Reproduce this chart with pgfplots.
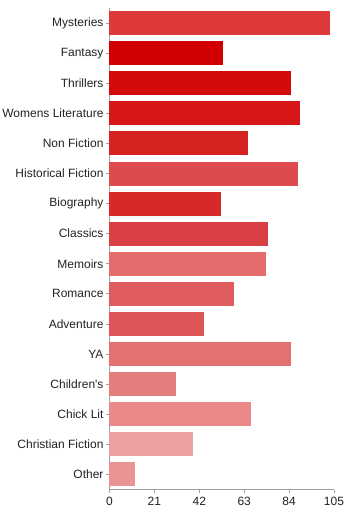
\documentclass[border=0pt]{standalone}
\usepackage{pgfplots}
\pgfplotsset{compat=1.18}
\usepackage{fontspec}
\setmainfont{Liberation Sans}
\definecolor{c1}{HTML}{DD393B}
\definecolor{c2}{HTML}{D20000}
\definecolor{c3}{HTML}{D30A0A}
\definecolor{c4}{HTML}{D51717}
\definecolor{c5}{HTML}{D72222}
\definecolor{c6}{HTML}{DD4B4D}
\definecolor{c7}{HTML}{D72929}
\definecolor{c8}{HTML}{DA4043}
\definecolor{c9}{HTML}{E36B6B}
\definecolor{c10}{HTML}{E05B5D}
\definecolor{c11}{HTML}{DF5456}
\definecolor{c12}{HTML}{E37172}
\definecolor{c13}{HTML}{E67D7D}
\definecolor{c14}{HTML}{E98989}
\definecolor{c15}{HTML}{EEA0A0}
\definecolor{c16}{HTML}{EA9393}
\definecolor{axgray}{HTML}{A0A0A0}
\definecolor{txt}{HTML}{222222}
\begin{document}
\begin{tikzpicture}
\begin{axis}[
  name=ax,
  scale only axis,
  width=224.5bp, height=481.5bp,
  xbar, bar width=24bp, bar shift=0pt,
  xmin=0, xmax=105,
  ymin=-0.5, ymax=15.5,
  y dir=reverse,
  axis x line*=bottom, axis y line*=left,
  axis line style={draw=axgray, line width=0.8pt},
  xtick={0,21,42,63,84,105},
  ytick={0,...,15},
  yticklabels={Mysteries,Fantasy,Thrillers,Womens Literature,Non Fiction,Historical Fiction,Biography,Classics,Memoirs,Romance,Adventure,YA,Children\textquotesingle s,Chick Lit,Christian Fiction,Other},
  tick style={draw=axgray, line width=0.8pt},
  major tick length=3.5bp,
  tick align=outside,
  every tick label/.append style={font=\fontsize{12bp}{14bp}\selectfont, text=txt},
  /pgf/number format/assume math mode=true,
  yticklabel style={xshift=1bp},
  xticklabel style={yshift=-1bp},
  clip=false,
]
\addplot[fill=c1, draw=none] coordinates {(103,0)};
\addplot[fill=c2, draw=none] coordinates {(53,1)};
\addplot[fill=c3, draw=none] coordinates {(85,2)};
\addplot[fill=c4, draw=none] coordinates {(89,3)};
\addplot[fill=c5, draw=none] coordinates {(65,4)};
\addplot[fill=c6, draw=none] coordinates {(88,5)};
\addplot[fill=c7, draw=none] coordinates {(52,6)};
\addplot[fill=c8, draw=none] coordinates {(74,7)};
\addplot[fill=c9, draw=none] coordinates {(73,8)};
\addplot[fill=c10, draw=none] coordinates {(58,9)};
\addplot[fill=c11, draw=none] coordinates {(44,10)};
\addplot[fill=c12, draw=none] coordinates {(85,11)};
\addplot[fill=c13, draw=none] coordinates {(31,12)};
\addplot[fill=c14, draw=none] coordinates {(66,13)};
\addplot[fill=c15, draw=none] coordinates {(39,14)};
\addplot[fill=c16, draw=none] coordinates {(12,15)};
\end{axis}
\pgfresetboundingbox
\path[use as bounding box] ([xshift=-109.5bp,yshift=-20.5bp]ax.south west) rectangle ([xshift=11bp,yshift=8bp]ax.north east);
\end{tikzpicture}
\end{document}
